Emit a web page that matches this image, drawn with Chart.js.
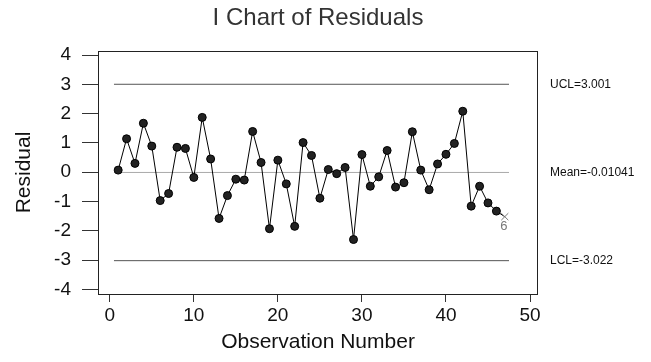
<!DOCTYPE html>
<html>
<head>
<meta charset="utf-8">
<title>I Chart of Residuals</title>
<script src="https://cdn.jsdelivr.net/npm/chart.js@4.4.0/dist/chart.umd.min.js"></script>
<style>
  html, body { margin: 0; padding: 0; background: #fff; }
</style>
</head>
<body>
<canvas id="ichart" width="651" height="362"></canvas>
<script>
// residual for each observation (obs 1..47)
var residuals = [0.07, 1.14, 0.30, 1.67, 0.89, -0.97, -0.73, 0.85, 0.81, -0.18,
                 1.87, 0.45, -1.58, -0.80, -0.24, -0.27, 1.39, 0.33, -1.93, 0.41,
                 -0.40, -1.85, 1.01, 0.57, -0.89, 0.09, -0.05, 0.16, -2.30, 0.60,
                 -0.48, -0.16, 0.74, -0.51, -0.36, 1.38, 0.07, -0.60, 0.28, 0.61,
                 0.98, 2.08, -1.16, -0.48, -1.05, -1.33, -1.52];

var limitValues = [3.001, -0.01041, -3.022];
var limitLabels = ['UCL=3.001', 'Mean=-0.01041', 'LCL=-3.022'];
var limitSpan = [0.5, 47.5];

// observations that failed a test, and the test number
var flaggedObs = [47];
var flaggedTest = ['6'];

var xTicks = [0, 10, 20, 30, 40, 50];
var yTicks = [-4, -3, -2, -1, 0, 1, 2, 3, 4];

var FONT = "'Liberation Sans', Arial, sans-serif";

var points = residuals.map(function(v, i){ return {x: i + 1, y: v}; });

function isFlagged(ctx){
    var p = ctx.raw;
    return p && flaggedObs.indexOf(p.x) >= 0;
}

function limitLine(value, color){
    return {
        data: [{x: limitSpan[0], y: value}, {x: limitSpan[1], y: value}],
        borderColor: color,
        borderWidth: 1,
        pointRadius: 0,
        fill: false
    };
}

var framePlugin = {
    id: 'frame',
    afterDraw: function(chart){
        var ctx = chart.ctx, a = chart.chartArea;
        ctx.save();
        ctx.strokeStyle = '#222';
        ctx.lineWidth = 1;
        ctx.strokeRect(Math.round(a.left) + 0.5, Math.round(a.top) + 0.5,
                       Math.round(a.right - a.left) - 1, Math.round(a.bottom - a.top));

        // title, centred on the plot frame
        ctx.fillStyle = '#333';
        ctx.font = '24px ' + FONT;
        ctx.textAlign = 'center';
        ctx.textBaseline = 'alphabetic';
        ctx.fillText('I Chart of Residuals', (a.left + a.right) / 2, 25);

        // control limit labels to the right of the frame
        var y = chart.scales.y;
        ctx.font = '12px ' + FONT;
        ctx.fillStyle = '#111';
        ctx.textAlign = 'left';
        ctx.textBaseline = 'middle';
        limitValues.forEach(function(v, i){
            ctx.fillText(limitLabels[i], a.right + 12, y.getPixelForValue(v));
        });

        // test numbers under flagged points
        var meta = chart.getDatasetMeta(0);
        ctx.fillStyle = '#777';
        ctx.font = '13px ' + FONT;
        ctx.textAlign = 'center';
        flaggedObs.forEach(function(o, i){
            var el = meta.data[o - 1];
            ctx.fillText(flaggedTest[i], el.x - 1, el.y + 10);
        });
        ctx.restore();
    }
};

new Chart(document.getElementById('ichart').getContext('2d'), {
    type: 'line',
    data: {
        datasets: [
            {
                data: points,
                borderColor: '#000',
                borderWidth: 1,
                tension: 0,
                fill: false,
                pointStyle: function(c){ return isFlagged(c) ? 'crossRot' : 'circle'; },
                pointRadius: function(c){ return isFlagged(c) ? 5 : 4; },
                pointBackgroundColor: '#222',
                pointBorderColor: function(c){ return isFlagged(c) ? '#777' : '#000'; },
                pointBorderWidth: 1
            },
            limitLine(limitValues[0], '#555'),
            limitLine(limitValues[1], '#aaa'),
            limitLine(limitValues[2], '#555')
        ]
    },
    options: {
        responsive: false,
        animation: false,
        layout: { padding: { top: 51, right: 113, left: 0, bottom: 0 } },
        plugins: {
            legend: { display: false },
            tooltip: { enabled: false },
            title: { display: false }
        },
        scales: {
            x: {
                type: 'linear',
                min: -1.4,
                max: 50.95,
                afterFit: function(s){ s.height = 68; },
                afterBuildTicks: function(s){ s.ticks = xTicks.map(function(v){ return {value: v}; }); },
                border: { display: false },
                grid: { drawOnChartArea: false, color: '#333', tickLength: 8 },
                ticks: { color: '#111', padding: 2, font: { family: FONT, size: 19 } },
                title: {
                    display: true,
                    text: 'Observation Number',
                    color: '#111',
                    padding: { top: 0, bottom: 7 },
                    font: { family: FONT, size: 21 }
                }
            },
            y: {
                min: -4.16,
                max: 4.137,
                afterFit: function(s){ s.width = 98; },
                afterBuildTicks: function(s){ s.ticks = yTicks.map(function(v){ return {value: v}; }); },
                border: { display: false },
                grid: { drawOnChartArea: false, color: '#333', tickLength: 16 },
                ticks: { color: '#111', padding: 11, font: { family: FONT, size: 19 } },
                title: {
                    display: true,
                    text: 'Residual',
                    color: '#111',
                    padding: { top: 12, bottom: 0 },
                    font: { family: FONT, size: 21 }
                }
            }
        }
    },
    plugins: [framePlugin]
});
</script>
</body>
</html>
